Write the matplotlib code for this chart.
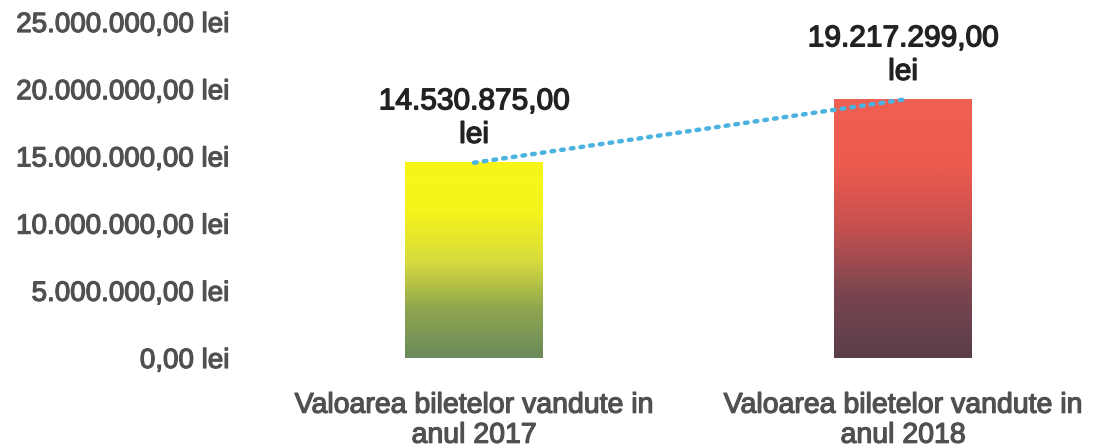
import numpy as np
import matplotlib.pyplot as plt
import matplotlib.patheffects as pe
from matplotlib.colors import LinearSegmentedColormap

categorii = ['Valoarea biletelor vandute in\nanul 2017', 'Valoarea biletelor vandute in\nanul 2018']
valori = [14530875.00, 19217299.00]
etichete = ['14.530.875,00\nlei', '19.217.299,00\nlei']
ticks_y = [0, 5000000, 10000000, 15000000, 20000000, 25000000]
ticks_text = ['0,00 lei', '5.000.000,00 lei', '10.000.000,00 lei',
              '15.000.000,00 lei', '20.000.000,00 lei', '25.000.000,00 lei']

# gradient de jos (0) in sus (1)
gradienti = [
    ['#6b8a5c', '#8fa64f', '#d8dc3c', '#f6f41c', '#f8f618'],
    ['#5a3e4a', '#7a4550', '#c4504e', '#ee5b4e', '#ef5f52'],
]

plt.rcParams['font.family'] = ['Liberation Sans', 'DejaVu Sans']
gri = '#505050'
gros = [pe.withStroke(linewidth=0.9, foreground=gri)]

fig = plt.figure(figsize=(10.97, 4.47), dpi=100)
ax = fig.add_axes([245/1097, (447-358)/447, 852/1097, 336/447])

x = np.arange(len(valori))
latime = 0.32
bare = ax.bar(x, valori, width=latime, color='none', edgecolor='none')

grad = np.linspace(0, 1, 256).reshape(-1, 1)
for b, cols in zip(bare, gradienti):
    cmap = LinearSegmentedColormap.from_list('g', cols)
    x0, y0 = b.get_x(), b.get_y()
    ax.imshow(grad, extent=[x0, x0 + b.get_width(), y0, y0 + b.get_height()],
              origin='lower', aspect='auto', cmap=cmap, zorder=1)

ax.plot(x, valori, linestyle=(0, (0.6, 1.6)), color='#4cb2e0', lw=3.2,
        dash_capstyle='round', zorder=3)

for xi, v, t in zip(x, valori, etichete):
    ax.annotate(t, (xi, v), xytext=(0, 10), textcoords='offset points',
                ha='center', va='bottom', fontsize=21.5, color='#222222',
                linespacing=1.25,
                path_effects=[pe.withStroke(linewidth=1.0, foreground='#222222')])

ax.set_xlim(-0.534, 1.452)
ax.set_ylim(0, 25000000)
ax.set_yticks(ticks_y)
ax.set_yticklabels(ticks_text)
ax.set_xticks(x)
ax.set_xticklabels(categorii)
ax.tick_params(axis='y', length=0, pad=11, labelsize=20, labelcolor=gri)
ax.tick_params(axis='x', length=0, pad=25, labelsize=20.5, labelcolor=gri)
for lbl in ax.get_yticklabels() + ax.get_xticklabels():
    lbl.set_path_effects(gros)
    lbl.set_linespacing(1.2)
for s in ax.spines.values():
    s.set_visible(False)

fig.savefig('out.png', dpi=100)
